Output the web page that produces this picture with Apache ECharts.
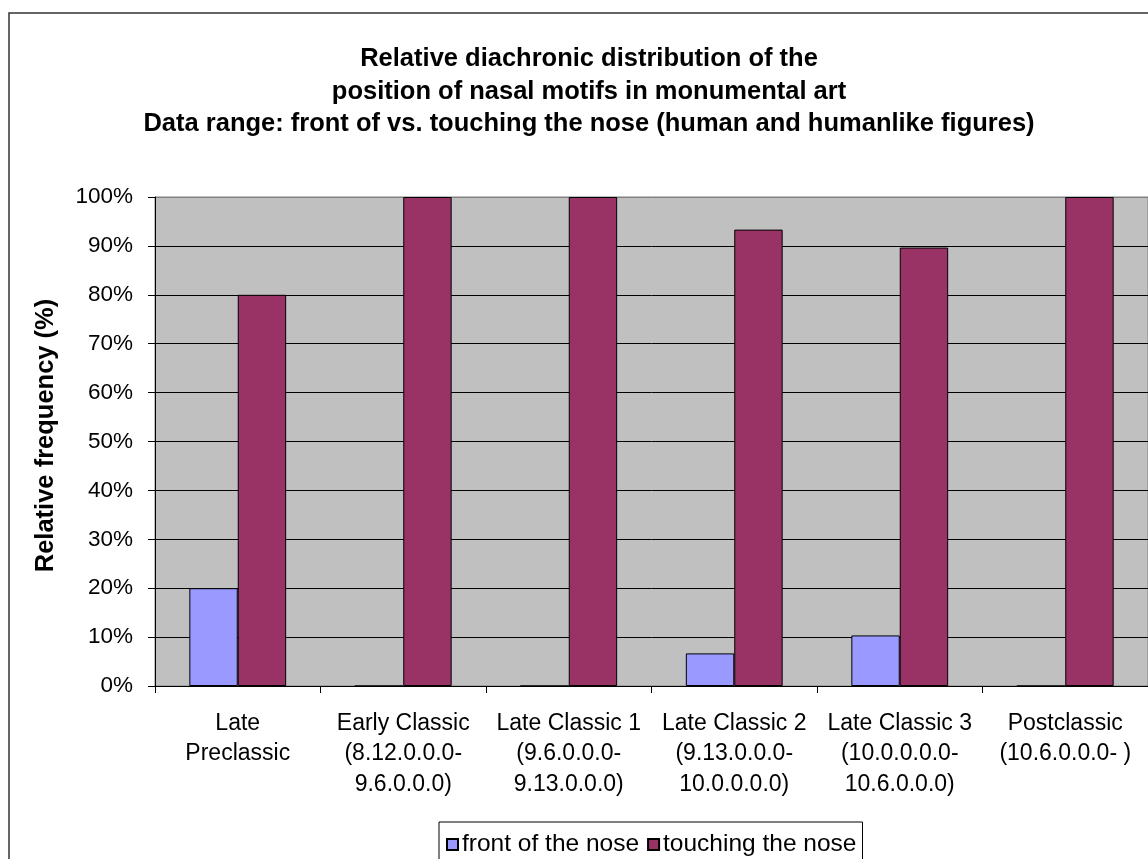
<!DOCTYPE html>
<html>
<head>
<meta charset="utf-8">
<script src="https://cdn.jsdelivr.net/npm/echarts@6/dist/echarts.min.js"></script>
<style>
html,body{margin:0;padding:0;background:#fff;}
#c{width:1148px;height:859px;}
</style>
</head>
<body>
<div id="c"></div>
<script>
const categories = [
  'Late\nPreclassic',
  'Early Classic\n(8.12.0.0.0-\n9.6.0.0.0)',
  'Late Classic 1\n(9.6.0.0.0-\n9.13.0.0.0)',
  'Late Classic 2\n(9.13.0.0.0-\n10.0.0.0.0)',
  'Late Classic 3\n(10.0.0.0.0-\n10.6.0.0.0)',
  'Postclassic\n(10.6.0.0.0- )'
];
const seriesNames = ['front of the nose', 'touching the nose'];
const frontOfNose = [20, 0, 0, 6.67, 10.34, 0];
const touchingNose = [80, 100, 100, 93.33, 89.66, 100];
const yTicks = [0, 10, 20, 30, 40, 50, 60, 70, 80, 90, 100];

const FONT = '"Liberation Sans", Arial, sans-serif';
const chart = echarts.init(document.getElementById('c'));
const gridColors = yTicks.map((v, i) => i === yTicks.length - 1 ? '#808080' : '#000000');

chart.setOption({
  animation: false,
  backgroundColor: '#ffffff',
  title: {
    text: 'Relative diachronic distribution of the\nposition of nasal motifs in monumental art\nData range: front of vs. touching the nose (human and humanlike figures)',
    left: 584,
    top: 38,
    textAlign: 'center',
    textStyle: {
      fontFamily: FONT, fontSize: 25.5, fontWeight: 'bold', color: '#000', lineHeight: 32.5
    }
  },
  graphic: [{
    type: 'rect', silent: true, z: -1,
    shape: { x: 9, y: 13, width: 1400, height: 1000 },
    style: { fill: 'none', stroke: '#333', lineWidth: 1.5 }
  }],
  legend: {
    data: seriesNames,
    left: 439,
    top: 822,
    orient: 'horizontal',
    icon: 'rect',
    itemWidth: 11,
    itemHeight: 11,
    itemGap: 8,
    padding: [10, 6, 6, 7],
    borderColor: '#000',
    borderWidth: 1,
    backgroundColor: '#fff',
    textStyle: { fontFamily: FONT, fontSize: 24.5, color: '#000', padding: [0, 0, 0, -1] }
  },
  grid: {
    left: 155, right: 0, top: 197, bottom: 173,
    show: true, backgroundColor: '#C0C0C0', borderColor: '#808080', borderWidth: 1
  },
  xAxis: {
    type: 'category',
    data: categories,
    boundaryGap: true,
    axisLine: { show: true, lineStyle: { color: '#000', width: 1 } },
    axisTick: { show: true, length: 7, alignWithLabel: false, lineStyle: { color: '#000' } },
    axisLabel: {
      interval: 0, margin: 22, color: '#000', fontFamily: FONT, fontSize: 23, lineHeight: 30.5, align: 'center'
    },
    splitLine: { show: false }
  },
  yAxis: {
    type: 'value',
    min: 0, max: 100, interval: 10,
    name: 'Relative frequency (%)',
    nameLocation: 'middle',
    nameRotate: 90,
    nameGap: 96,
    nameTextStyle: { fontFamily: FONT, fontSize: 25.5, fontWeight: 'bold', color: '#000', padding: [0, 0, 0, 12] },
    axisLine: { show: true, lineStyle: { color: '#000', width: 1 } },
    axisTick: { show: true, length: 7, inside: false, lineStyle: { color: '#000' } },
    axisLabel: {
      margin: 22, color: '#000', fontFamily: FONT, fontSize: 22.5,
      formatter: v => v + '%'
    },
    splitLine: { show: true, lineStyle: { color: gridColors, width: 1 } }
  },
  series: [
    {
      name: seriesNames[0], type: 'bar', data: frontOfNose,
      barGap: '0%', barCategoryGap: '41.5%',
      itemStyle: { color: '#9999FF', borderColor: '#000', borderWidth: 1 }
    },
    {
      name: seriesNames[1], type: 'bar', data: touchingNose,
      barGap: '0%', barCategoryGap: '41.5%',
      itemStyle: { color: '#993366', borderColor: '#000', borderWidth: 1 }
    }
  ]
});
</script>
</body>
</html>
